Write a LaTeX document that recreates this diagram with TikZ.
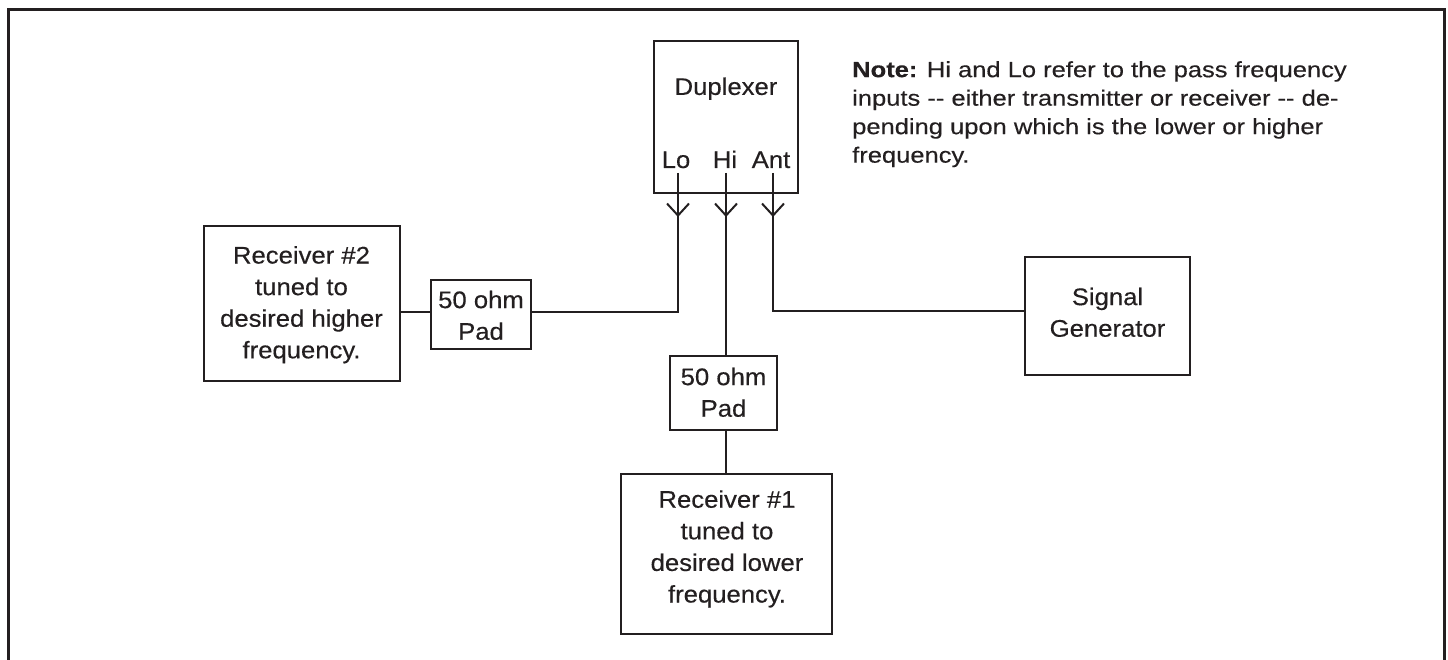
\documentclass[tikz,border=0pt]{standalone}
\usepackage{fontspec}
\setmainfont{Liberation Sans}[FakeStretch=1.07, FakeBold=0.35]
\newfontfamily\notefont{Liberation Sans}[FakeStretch=1.16, FakeBold=0.35]
\usetikzlibrary{arrows.meta,decorations.markings}
\definecolor{ink}{HTML}{231F20}
% two plain hyphens, kept apart so they do not turn into a dash
\newcommand\dblhyph{-\kern0pt-}

\begin{document}
\begin{tikzpicture}[x=1pt,y=-1pt,
  box/.style={draw=ink, line width=2.6pt, inner sep=0pt},
  lbl/.style={text=ink, inner sep=0pt, align=center, font=\fontsize{24}{31.6}\selectfont},
  port/.style={text=ink, inner sep=0pt, anchor=base, font=\fontsize{24}{31.6}\selectfont},
  wire/.style={draw=ink, line width=2pt},
  feed/.style={wire, postaction={decorate},
    decoration={markings, mark=at position 44pt with {\arrow{Straight Barb[length=12pt,width=22pt]}}}},
]
\useasboundingbox (0,0) rectangle (1448,660);

% outer frame, open at the bottom
\draw[ink, line width=3pt, line join=miter] (8.5,660) -- (8.5,9.5) -- (1444.5,9.5) -- (1444.5,660);

% duplexer with its three ports
\node[box, minimum width=144pt, minimum height=152pt] (dup) at (726,117) {};
\node[lbl] (duptxt) at (726,88.6) {\strut Duplexer};
\node[port] (lotxt) at (676,168) {Lo};
\node[port] (hitxt) at (725,168) {Hi};
\node[port] (anttxt) at (771,168) {Ant};
\coordinate (lo) at (678,173);
\coordinate (hi) at (726,173);
\coordinate (ant) at (773,173);
\coordinate (loturn) at (678,312);
\coordinate (antturn) at (773,311);

% left branch: pad and receiver #2
\node[box, minimum width=100pt, minimum height=69pt] (padL) at (481,314.5) {};
\node[lbl] (padLtxt) at (481,317.6) {\strut 50 ohm\\\strut Pad};
\node[box, minimum width=196pt, minimum height=155pt] (rec2) at (302,303.5) {};
\node[lbl] (rec2txt) at (301.5,304.6) {\strut Receiver \#2\\\strut tuned to\\\strut desired higher\\\strut frequency.};

% middle branch: pad and receiver #1
\node[box, minimum width=107pt, minimum height=74pt] (padC) at (723.5,393) {};
\node[lbl] (padCtxt) at (723.5,394.6) {\strut 50 ohm\\\strut Pad};
\node[box, minimum width=211pt, minimum height=160pt] (rec1) at (726.5,554) {};
\node[lbl] (rec1txt) at (727,548.8) {\strut Receiver \#1\\\strut tuned to\\\strut desired lower\\\strut frequency.};

% right branch: signal generator
\node[box, minimum width=165pt, minimum height=118pt] (sg) at (1107.5,316) {};
\node[lbl] (sgtxt) at (1107.5,314.6) {\strut Signal\\\strut Generator};

% note
\node[text=ink, inner sep=0pt, anchor=north west, align=left,
      font={\notefont\fontsize{22}{28.5}\selectfont}] (note) at (852,57)
  {\strut\textbf{Note:} Hi and Lo refer to the pass frequency\\
   \strut inputs \dblhyph{} either transmitter or receiver \dblhyph{} de-\\
   \strut pending upon which is the lower or higher\\
   \strut frequency.};

% connections
\draw[feed] (lo) -- (loturn) -- (loturn -| padL.east);
\draw[wire] (loturn -| padL.west) -- (loturn -| rec2.east);
\draw[feed] (hi) -- (hi |- padC.north);
\draw[wire] (hi |- padC.south) -- (hi |- rec1.north);
\draw[feed] (ant) -- (antturn) -- (antturn -| sg.west);
\end{tikzpicture}
\end{document}
